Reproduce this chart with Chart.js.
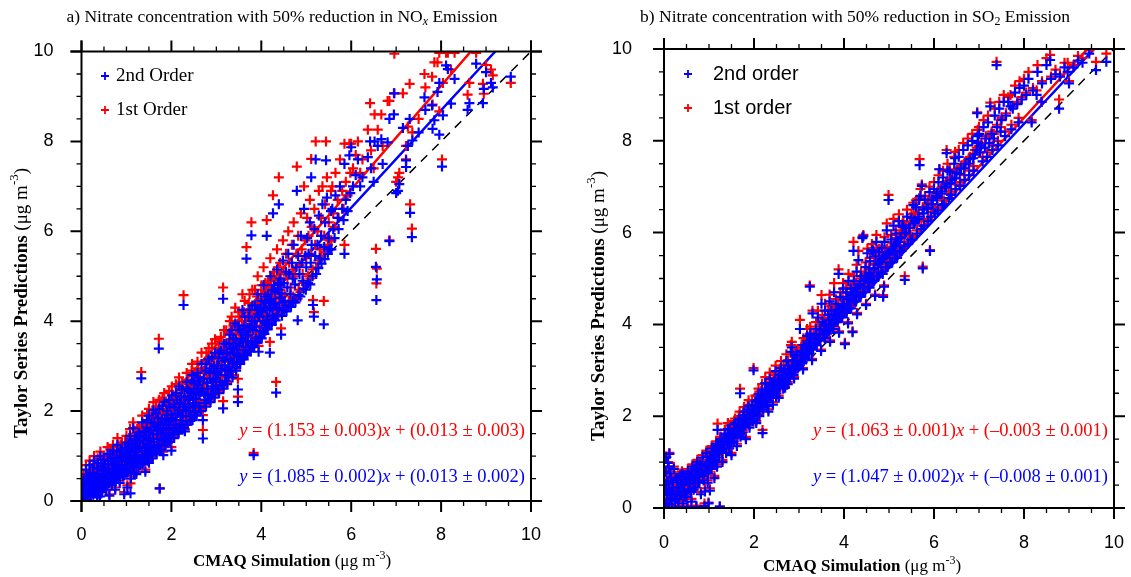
<!DOCTYPE html>
<html>
<head>
<meta charset="utf-8">
<title>Nitrate concentration - Taylor series vs CMAQ</title>
<script src="https://cdn.jsdelivr.net/npm/chart.js@4.4.1/dist/chart.umd.min.js"></script>
<style>
  body { margin: 0; background: #fff; overflow: hidden; }
  #wrap { position: relative; width: 1131px; height: 577px; }
  canvas { position: absolute; top: 0; }
</style>
</head>
<body>
<div id="wrap">
  <canvas id="chartA" width="565" height="577" style="left:0"></canvas>
  <canvas id="chartB" width="566" height="577" style="left:565px"></canvas>
</div>
<script>
// panel a: 50% NOx reduction -- CMAQ value, 1st order and 2nd order Taylor predictions
const cmaqA = [
  0.02,0.05,0.05,0.08,0.10,0.10,0.12,0.15,0.15,0.18,
  0.20,0.22,0.25,0.25,0.28,0.30,0.30,0.32,0.35,0.35,
  0.38,0.40,0.40,0.42,0.45,0.41,0.48,0.50,0.50,0.52,
  0.55,0.55,0.58,0.60,0.60,0.62,0.65,0.65,0.68,0.70,
  0.70,0.72,0.75,0.75,0.78,0.80,0.80,0.82,0.85,0.85,
  0.88,0.90,0.90,0.92,0.95,0.95,0.98,1.00,1.00,1.00,
  1.02,1.05,1.05,1.08,1.10,1.10,1.12,1.15,1.15,1.18,
  1.20,1.20,1.22,1.25,1.25,1.28,1.30,1.30,1.33,1.35,
  1.35,1.38,1.40,1.42,1.45,1.45,1.48,1.50,1.50,1.50,
  1.09,1.52,1.55,1.58,1.60,1.60,1.62,1.65,1.68,1.70,
  1.70,1.72,1.74,1.75,1.78,1.80,1.82,1.85,1.88,1.90,
  1.92,1.95,1.95,1.98,2.00,2.00,2.05,2.05,2.10,2.10,
  2.15,2.18,2.20,2.22,2.25,2.27,2.30,2.30,2.35,2.38,
  2.40,2.42,2.45,2.48,2.50,2.52,2.55,2.58,2.60,2.62,
  2.65,2.70,2.70,2.72,2.75,2.78,2.80,2.85,2.88,2.90,
  2.92,2.95,2.98,3.00,3.05,3.08,3.10,3.12,3.15,3.15,
  3.18,3.20,3.22,3.25,3.28,3.30,3.32,3.35,3.38,3.40,
  3.42,3.45,3.48,3.48,3.50,3.52,3.55,3.58,3.60,3.62,
  3.65,3.67,3.70,3.72,3.75,3.78,3.80,3.83,3.85,3.88,
  3.90,3.92,3.94,3.95,3.98,4.00,4.02,4.05,4.08,4.10,
  4.12,4.15,4.18,4.19,4.20,4.22,4.25,4.26,4.28,4.30,
  4.33,4.35,4.38,4.39,4.40,4.42,4.44,4.45,4.48,4.50,
  4.52,4.55,4.58,4.60,4.62,4.65,4.68,4.70,4.72,4.75,
  4.78,4.79,4.81,4.82,4.85,4.88,4.90,4.92,4.95,4.98,
  5.00,5.02,5.05,5.08,5.10,5.11,5.12,5.15,5.17,5.18,
  5.20,5.21,5.25,5.28,5.30,5.33,5.36,5.39,5.40,5.42,
  5.44,5.46,5.50,5.52,5.55,5.58,5.60,5.63,5.65,5.70,
  5.72,5.75,5.80,5.83,5.85,5.85,5.88,5.92,5.96,5.98,
  6.00,6.04,6.10,6.15,6.20,6.25,6.37,6.42,6.44,6.50,
  6.52,6.55,6.57,6.56,6.59,6.67,6.70,6.81,6.85,6.85,
  6.95,6.96,7.00,7.04,7.07,7.15,7.22,7.22,7.26,7.30,
  7.31,7.35,7.36,7.50,7.63,7.65,7.80,7.81,7.85,7.92,
  7.96,7.96,8.02,8.04,8.11,8.15,8.22,8.30,8.59,8.63,
  8.78,8.93,8.95,9.00,9.11,9.15,9.55,
  0.03,0.06,0.09,0.12,0.14,0.17,0.19,0.21,0.24,0.27,
  0.29,0.31,0.34,0.36,0.39,0.43,0.44,0.47,0.49,0.51,
  0.54,0.57,0.59,0.63,0.64,0.67,0.69,0.71,0.74,0.77,
  0.79,0.81,0.84,0.87,0.89,0.93,0.94,0.97,0.99,1.01,
  1.04,1.06,1.09,1.11,1.13,1.16,1.19,1.21,1.24,1.26,
  1.29,1.31,1.34,1.37,1.39,1.41,1.44,1.46,1.49,1.51,
  1.54,1.56,1.59,1.61,1.64,1.66,1.69,1.71,1.73,1.76,
  1.79,1.81,1.84,1.86,1.89,1.91,1.94,1.96,1.99,2.01,
  2.03,2.07,2.09,2.12,2.14,2.17,2.19,2.21,2.24,2.26,
  2.29,2.32,2.34,2.37,2.39,2.41,2.44,2.46,2.49,2.51,
  2.54,2.57,2.59,2.61,2.64,2.67,2.69,2.73,2.76,2.79,
  2.81,2.83,2.86,2.89,2.91,2.94,2.97,2.99,
  3.02,3.04,3.07,3.11,3.14,3.17,3.19,3.23,3.26,3.29,
  3.31,3.34,3.37,3.39,3.43,3.46,3.49,3.51,3.54,3.57,
  3.59,3.63,3.66,3.69,3.71,3.74,3.77,3.79,3.82,3.86,
  3.89,3.93,3.96,3.99,4.03,4.06,4.09,4.13,4.16,4.21,
  4.24,4.27,4.31,4.34,4.37,4.41,4.43,4.47,
  0.22,0.26,0.33,0.37,0.44,0.46,0.53,0.56,0.61,0.66,
  0.73,0.76,0.83,0.86,0.91,0.96,1.03,1.07,1.14,1.17,
  1.23,1.27,1.32,1.36,1.43,1.47,1.53,1.57,1.63,1.67,
  1.72,1.77,1.83,1.87,1.93,1.97,2.02,2.06,2.11,2.16,
  2.23,2.28,2.33,2.36,2.43,2.47,2.53,2.56,2.63,2.66,
  2.74,2.77,2.84,2.87,2.93,2.96,3.03,3.06,3.13,3.16,
  3.21,3.24,3.27,3.33,3.36,3.41,3.44,3.47,3.53,3.56,
  3.61,3.64,3.68,3.73,3.76,3.81,3.84,3.87,3.91,3.97,
  4.01,4.04,4.07,4.11,4.14,4.17,4.23,4.29,4.32,4.36,
  4.46,4.51,4.56,4.61,4.66,4.71,4.76,4.83,4.87,4.94,
  4.99,5.04,5.09,5.14,5.22,5.27,5.34,5.41,5.48,5.56
];
const firstOrderA = [
  0.10,0.35,0.60,0.20,0.45,0.80,0.05,0.30,0.60,0.90,
  0.15,0.45,0.30,0.70,1.00,0.20,0.50,0.35,0.80,0.10,
  0.55,0.30,0.65,1.10,0.45,0.20,0.75,0.55,0.35,0.90,
  0.65,0.30,1.20,0.50,0.80,0.15,1.00,0.60,0.40,0.75,
  1.25,0.55,0.90,0.30,1.05,0.65,1.40,0.85,0.45,1.10,
  0.75,0.95,1.30,0.60,1.15,0.20,0.85,1.05,1.45,0.70,
  0.35,1.20,0.90,1.60,0.55,1.05,1.35,0.80,1.75,1.20,
  0.95,1.50,0.65,1.30,1.10,1.65,0.85,1.40,2.87,1.20,
  1.90,1.00,1.55,0.70,1.35,1.75,1.10,1.50,2.05,0.90,
  0.39,1.25,1.70,1.00,1.40,2.20,1.85,1.15,1.60,2.00,
  1.30,3.61,0.28,1.80,1.45,2.30,1.10,1.95,1.60,2.15,
  1.35,1.80,2.45,1.50,2.05,1.20,2.30,1.70,1.90,2.60,
  1.70,2.15,1.80,2.50,2.00,4.58,2.30,1.60,2.70,2.10,
  2.45,1.85,2.90,2.25,2.60,2.00,2.40,3.10,2.75,2.20,
  2.55,1.91,1.58,2.90,2.35,3.30,2.65,3.05,2.45,3.50,
  2.80,3.20,2.60,3.00,3.40,2.75,3.65,3.10,2.22,4.75,
  3.30,2.90,3.80,3.50,3.10,4.00,3.60,3.25,3.90,3.45,
  4.30,3.70,2.72,2.32,3.35,4.10,3.80,4.60,3.50,4.20,
  3.90,5.65,3.70,4.40,4.05,6.20,4.70,1.07,4.20,3.75,
  4.55,5.00,3.45,4.30,3.90,4.80,4.40,5.20,4.10,4.65,
  6.25,4.90,4.45,3.54,5.40,4.75,4.30,6.80,5.10,4.60,
  2.65,5.60,4.95,7.20,4.50,5.30,3.84,4.85,5.80,5.10,
  4.60,5.50,4.95,6.00,5.30,4.75,5.70,5.15,6.20,5.00,
  5.50,7.44,4.50,5.90,5.25,6.40,5.60,5.05,7.00,5.80,
  5.40,6.30,5.90,6.70,5.50,7.61,6.10,4.47,4.20,6.50,
  5.70,8.00,6.00,6.90,5.60,6.30,7.00,4.45,5.90,6.60,
  8.00,7.20,6.20,5.80,6.90,7.00,6.40,6.10,7.30,6.70,
  6.30,7.60,6.90,6.50,5.70,7.95,7.10,6.80,7.95,7.30,
  7.95,7.40,7.70,8.00,7.30,7.60,8.26,8.85,7.80,7.40,
  8.60,5.61,5.17,4.84,8.26,8.60,7.90,8.90,8.90,5.80,
  9.07,9.95,7.10,7.20,7.30,9.07,7.90,7.60,8.33,9.28,
  6.60,6.06,8.20,8.50,9.50,9.20,9.44,8.82,9.76,9.76,
  8.67,9.97,7.60,9.30,9.97,9.97,9.60,9.97,9.04,9.30,
  9.97,9.28,9.06,9.70,9.60,9.47,9.30,
  0.25,0.45,0.30,0.55,0.15,0.40,0.65,0.28,0.55,0.82,
  0.38,0.62,0.45,0.95,0.42,0.55,0.85,0.62,1.00,0.45,
  0.72,0.55,0.95,0.70,1.15,0.58,0.88,1.05,0.68,0.80,
  1.20,0.95,0.70,1.25,0.85,1.05,0.75,1.30,0.95,1.15,
  1.00,1.40,1.15,0.90,1.30,1.05,1.45,1.20,1.60,0.95,
  1.25,1.55,1.05,1.45,1.70,1.25,1.55,1.95,1.30,1.65,
  1.40,1.90,1.55,1.25,1.75,2.10,1.45,1.70,2.25,1.55,
  1.95,1.70,2.40,1.40,1.85,2.05,1.65,2.25,1.90,2.55,
  1.95,2.20,1.75,2.40,2.05,2.75,2.30,1.95,2.65,2.20,
  2.45,2.10,2.85,2.35,2.60,2.15,2.55,3.05,2.40,2.80,
  2.25,2.65,2.95,2.45,2.85,3.30,2.60,2.50,3.10,2.75,
  2.45,3.40,2.85,3.15,2.65,3.00,3.60,2.80,
  3.20,2.90,3.55,3.00,3.35,3.80,3.15,3.45,3.00,3.75,
  3.30,4.10,3.55,3.20,3.85,3.40,4.20,3.60,3.30,4.00,
  3.70,4.45,3.55,4.10,3.85,4.60,3.65,4.25,3.95,4.70,
  4.05,4.40,3.75,4.60,4.15,4.50,4.85,4.25,4.70,4.45,
  5.00,4.55,4.90,4.40,5.20,4.70,5.05,4.55,
  0.22,0.18,0.28,0.22,0.32,0.25,0.40,0.42,0.45,0.48,
  0.50,0.55,0.60,0.58,0.70,0.62,0.72,0.78,0.85,0.68,
  0.92,0.80,0.98,0.88,1.05,0.95,1.15,1.08,1.22,1.10,
  1.30,1.20,1.42,1.28,1.50,1.38,1.55,1.45,1.65,1.58,
  1.75,1.68,1.85,1.75,1.95,1.88,2.05,1.95,2.15,2.05,
  2.25,2.15,2.35,2.25,2.45,2.35,2.55,2.45,2.65,2.55,
  2.75,2.65,2.85,2.95,2.80,3.05,2.95,3.15,3.10,3.25,
  3.20,3.35,3.30,3.45,3.40,3.55,3.50,3.65,3.60,3.75,
  3.70,3.85,3.80,3.95,3.90,4.05,4.00,4.15,4.10,4.25,
  4.20,4.35,4.30,4.45,4.40,4.55,4.50,4.70,4.65,4.85,
  4.80,5.00,4.95,5.15,5.20,5.35,5.45,5.55,5.70,5.80
];
const secondOrderA = [
  0.05,0.25,0.50,0.15,0.40,0.70,0.02,0.25,0.55,0.80,
  0.12,0.40,0.28,0.62,0.90,0.18,0.45,0.30,0.72,0.08,
  0.50,0.25,0.60,1.00,0.40,0.10,0.68,0.50,0.30,0.82,
  0.60,0.25,1.05,0.45,0.72,0.12,0.90,0.55,0.35,0.70,
  1.12,0.50,0.82,0.25,0.95,0.60,1.25,0.78,0.40,1.00,
  0.70,0.88,1.15,0.55,1.05,0.15,0.80,0.97,1.30,0.65,
  0.30,1.10,0.85,1.45,0.50,0.98,1.25,0.75,1.62,1.12,
  0.90,1.38,0.60,1.20,1.02,1.52,0.80,1.30,2.73,1.12,
  1.75,0.95,1.45,0.65,1.25,1.62,1.05,1.40,1.90,0.85,
  0.17,1.18,1.58,0.95,1.32,2.02,1.72,1.10,1.50,1.85,
  1.25,3.39,0.28,1.68,1.38,2.12,1.02,1.82,1.52,2.00,
  1.30,1.70,2.25,1.42,1.92,1.12,2.15,1.62,1.80,2.40,
  1.54,2.02,1.72,2.32,1.90,4.36,2.15,1.55,2.50,2.00,
  2.30,1.78,2.68,2.12,2.45,1.92,2.28,2.85,2.58,2.10,
  2.42,1.80,1.39,2.72,2.25,3.05,2.50,2.85,2.35,3.20,
  2.65,3.00,2.50,2.85,3.18,2.65,3.35,2.95,2.06,4.50,
  3.12,2.80,3.50,3.30,2.98,3.70,3.40,3.10,3.62,3.30,
  3.95,3.50,2.48,2.20,3.20,3.80,3.60,4.25,3.35,3.90,
  3.70,5.39,3.55,4.10,3.85,5.91,4.35,1.02,4.00,3.62,
  4.25,4.60,3.32,4.10,3.78,4.45,4.20,4.80,3.95,4.40,
  5.90,4.60,4.25,3.30,5.00,4.50,4.12,6.40,4.80,4.40,
  2.41,5.15,4.70,6.60,4.30,4.95,3.70,4.62,5.35,4.85,
  4.45,5.10,4.75,5.50,5.05,4.60,5.30,4.95,5.70,4.82,
  5.20,6.90,4.02,5.45,5.05,5.90,5.30,4.90,6.50,5.45,
  5.20,5.85,5.50,6.20,5.30,7.20,5.70,4.36,4.10,6.05,
  5.45,7.60,5.70,6.35,5.40,5.90,6.60,3.93,5.65,6.20,
  7.58,6.75,5.85,5.60,6.45,6.50,6.05,5.85,6.80,6.30,
  6.05,7.00,6.50,6.25,5.50,7.50,6.70,6.45,7.69,6.85,
  7.87,7.00,7.25,7.60,7.00,7.20,7.65,8.00,7.40,7.10,
  8.00,5.21,4.93,4.47,7.90,8.05,7.50,7.98,8.50,5.78,
  8.60,9.07,6.85,6.90,7.05,8.30,7.58,7.43,7.90,8.50,
  6.41,5.87,8.02,8.20,8.98,8.70,8.80,8.28,8.47,9.10,
  8.15,9.30,7.44,8.58,9.69,9.61,8.84,9.39,8.70,8.85,
  9.73,8.85,9.17,9.54,9.30,9.20,9.44,
  0.20,0.35,0.25,0.48,0.10,0.35,0.58,0.22,0.50,0.75,
  0.33,0.55,0.40,0.85,0.38,0.50,0.78,0.55,0.92,0.40,
  0.66,0.50,0.88,0.64,1.05,0.52,0.80,0.95,0.62,0.74,
  1.10,0.88,0.65,1.12,0.80,0.98,0.70,1.18,0.90,1.08,
  0.95,1.28,1.08,0.85,1.20,1.00,1.35,1.12,1.45,0.90,
  1.18,1.42,1.00,1.35,1.55,1.18,1.45,1.80,1.22,1.55,
  1.32,1.75,1.48,1.20,1.65,1.95,1.38,1.60,2.05,1.48,
  1.82,1.62,2.20,1.35,1.75,1.92,1.58,2.10,1.80,2.35,
  1.85,2.08,1.68,2.25,1.95,2.55,2.18,1.88,2.48,2.10,
  2.32,2.02,2.65,2.25,2.45,2.08,2.40,2.80,2.28,2.62,
  2.18,2.50,2.75,2.35,2.68,3.05,2.48,2.40,2.90,2.62,
  2.38,3.15,2.72,2.95,2.55,2.85,3.30,2.70,
  3.02,2.80,3.30,2.90,3.18,3.50,3.02,3.28,2.92,3.50,
  3.15,3.80,3.38,3.08,3.60,3.25,3.90,3.45,3.20,3.75,
  3.55,4.10,3.42,3.85,3.68,4.25,3.52,4.00,3.80,4.35,
  3.88,4.15,3.65,4.30,4.00,4.30,4.55,4.10,4.45,4.30,
  4.70,4.38,4.65,4.28,4.85,4.52,4.80,4.42,
  0.18,0.14,0.22,0.18,0.28,0.20,0.35,0.38,0.40,0.42,
  0.45,0.50,0.55,0.52,0.62,0.58,0.66,0.72,0.78,0.62,
  0.85,0.75,0.92,0.82,0.98,0.90,1.08,1.02,1.15,1.05,
  1.22,1.15,1.35,1.22,1.42,1.32,1.48,1.40,1.58,1.50,
  1.68,1.62,1.78,1.70,1.88,1.80,1.98,1.90,2.08,2.00,
  2.18,2.10,2.28,2.20,2.38,2.30,2.48,2.40,2.58,2.50,
  2.68,2.60,2.78,2.88,2.75,2.98,2.90,3.05,3.05,3.15,
  3.15,3.25,3.25,3.35,3.32,3.45,3.42,3.55,3.52,3.65,
  3.62,3.75,3.72,3.85,3.82,3.95,3.92,4.05,4.02,4.15,
  4.12,4.25,4.22,4.35,4.32,4.45,4.42,4.58,4.55,4.72,
  4.70,4.85,4.82,5.00,5.05,5.18,5.28,5.38,5.50,5.60
];

// panel b: 50% SO2 reduction
const cmaqB = [
  0.02,0.03,0.04,0.05,0.06,0.08,0.10,0.12,0.12,0.15,
  0.15,0.18,0.20,0.22,0.25,0.28,0.30,0.32,0.35,0.38,
  0.40,0.42,0.45,0.48,0.50,0.52,0.55,0.58,0.60,0.61,
  0.65,0.68,0.70,0.72,0.75,0.78,0.80,0.82,0.85,0.88,
  0.90,0.91,0.93,0.95,0.98,0.99,1.02,1.00,1.05,1.08,
  1.10,1.12,1.15,1.18,1.19,1.20,1.22,1.24,1.25,1.28,
  1.30,1.32,1.35,1.38,1.40,1.42,1.45,1.48,1.50,1.52,
  1.55,1.58,1.60,1.62,1.65,1.68,1.69,1.70,1.72,1.75,
  1.78,1.80,1.82,1.85,1.88,1.90,1.92,1.95,1.98,1.99,
  2.00,2.03,2.05,2.08,2.10,2.12,2.15,2.18,2.19,2.20,
  2.22,2.25,2.28,2.30,2.32,2.35,2.38,2.40,2.42,2.45,
  2.48,2.50,2.52,2.55,2.58,2.60,2.62,2.65,2.68,2.70,
  2.72,2.75,2.78,2.80,2.82,2.84,2.85,2.88,2.90,2.92,
  2.95,2.98,3.00,3.02,3.05,3.08,3.10,3.12,3.15,3.18,
  3.20,3.22,3.24,3.25,3.28,3.30,3.32,3.35,3.38,3.40,
  3.42,3.45,3.48,3.50,3.52,3.55,3.58,3.60,3.62,3.65,
  3.68,3.70,3.72,3.75,3.78,3.80,3.82,3.85,3.88,3.90,
  3.92,3.95,3.98,4.00,4.02,4.05,4.08,4.10,4.12,4.15,
  4.19,4.20,4.21,4.22,4.25,4.28,4.30,4.32,4.35,4.38,
  4.41,4.43,4.45,4.48,4.50,4.52,4.55,4.58,4.60,4.62,
  4.65,4.68,4.70,4.72,4.75,4.78,4.80,4.84,4.87,4.88,
  4.90,4.92,4.95,4.99,5.00,5.05,5.08,5.10,5.12,5.15,
  5.20,5.22,5.25,5.30,5.32,5.35,5.38,5.40,5.45,5.50,
  5.54,5.55,5.58,5.60,5.65,5.67,5.68,5.70,5.73,5.75,
  5.75,5.80,5.85,5.90,5.91,5.95,6.00,6.05,6.10,6.12,
  6.15,6.20,6.25,6.28,6.28,6.30,6.35,6.40,6.45,6.47,
  6.50,6.55,6.60,6.65,6.70,6.75,6.80,6.85,6.91,6.95,
  6.96,6.97,6.98,7.00,7.05,7.10,7.15,7.20,7.25,7.28,
  7.35,7.39,7.40,7.45,7.50,7.55,7.60,7.65,7.70,7.75,
  7.80,7.85,7.90,7.95,8.00,8.05,8.10,8.17,8.20,8.28,
  8.30,8.39,8.40,8.50,8.58,8.60,8.70,8.78,8.80,8.90,
  8.97,9.00,9.10,9.20,9.30,9.45,9.60,9.83,
  0.05,0.07,0.09,0.11,0.14,0.17,0.19,0.23,0.26,0.29,
  0.33,0.36,0.39,0.43,0.46,0.51,0.54,0.57,0.62,0.66,
  0.69,0.73,0.76,0.81,0.84,0.87,0.92,0.96,0.97,1.01,
  1.04,1.07,1.11,1.14,1.17,1.21,1.23,1.27,1.31,1.34,
  1.37,1.41,1.44,1.47,1.51,1.54,1.57,1.61,1.64,1.67,
  1.71,1.74,1.77,1.81,1.84,1.87,1.91,1.94,1.97,2.02,
  2.06,2.09,2.13,2.17,2.21,2.24,2.27,2.31,2.34,2.37,
  2.41,2.44,2.47,2.51,2.54,2.57,2.61,2.64,2.67,2.71,
  2.74,2.77,2.81,2.87,2.91,2.94,2.97,
  3.03,3.07,3.11,3.14,3.19,3.23,3.27,3.31,3.36,3.39,
  3.44,3.47,3.53,3.57,3.61,3.66,3.71,3.76,3.81,3.86,
  3.91,3.96,4.01,4.06,4.11,4.16,4.23,4.27,4.33,4.37,
  4.42,4.47,4.53,4.57,4.63,4.67,4.73,4.77,4.83,4.86,
  4.93,4.97,5.03,5.07,5.13,5.18,5.24,5.28,5.34,5.42,
  5.48,5.52,5.62,5.72,5.78,5.87,5.93,6.02,6.08,6.18,
  6.22,6.33,6.38,6.48,6.58,6.68,6.78,6.88,7.08,7.18,
  7.30,7.42,7.58,7.72,7.88,
  0.45,0.53,0.63,0.74,0.86,0.94,1.06,1.16,1.26,1.36,
  1.46,1.56,1.66,1.76,1.86,1.96,2.07,2.16,2.26,2.36,
  2.46,2.56,2.66,2.76,2.86,2.96,3.06,3.16,3.26,3.37,
  3.46,3.56,3.67,3.77,3.87,3.97,4.07,4.17,4.27,4.36,
  4.46,4.56,4.66,4.76,4.85,4.96,5.06,5.16,5.26,5.36,
  5.46,5.57,5.66,5.77,5.86,5.97,6.07,6.17,6.27,6.37,
  6.46,6.57,6.67,6.77,6.87,7.02,7.13,7.23,7.33,7.48,
  1.09,1.29,1.49,1.69,1.89,2.08,2.29,2.49,2.69,2.89,
  3.09,3.29,3.49,3.69,3.89,4.09,4.29,4.49,4.69,4.89
];
const firstOrderB = [
  0.05,0.40,0.80,1.12,0.20,0.60,0.90,0.10,1.20,0.35,
  0.70,0.02,0.50,0.90,0.20,0.40,0.65,0.05,0.30,0.55,
  0.80,0.15,0.45,0.65,0.30,0.05,0.55,0.75,0.40,0.20,
  0.65,0.90,0.50,0.05,0.75,0.60,1.00,0.35,0.80,0.65,
  0.10,0.43,0.95,1.20,0.80,0.12,0.43,1.05,0.90,1.30,
  1.10,0.70,1.25,0.95,1.84,1.40,1.15,0.03,1.55,1.30,
  1.05,1.45,1.70,1.25,1.50,1.85,1.35,1.60,1.20,1.75,
  1.50,1.95,1.65,1.40,1.80,2.10,2.60,1.60,1.90,1.70,
  2.20,1.85,1.55,2.05,2.35,1.80,2.00,2.20,1.95,3.05,
  2.10,2.45,1.90,2.25,2.60,2.05,2.35,2.70,1.70,2.20,
  2.50,2.85,2.35,2.60,2.15,2.95,2.50,2.75,2.30,2.65,
  3.10,2.55,2.85,2.45,2.75,3.20,2.90,2.65,3.00,2.80,
  3.35,2.75,3.05,2.90,3.55,3.62,3.15,2.95,3.30,3.05,
  3.45,3.15,3.20,4.10,3.50,3.25,3.70,3.35,3.60,3.90,
  3.40,3.65,4.85,3.95,3.55,4.30,3.80,3.60,4.05,3.75,
  4.30,3.70,3.95,4.64,4.20,3.85,4.45,4.05,3.85,4.30,
  4.65,4.05,4.40,4.15,4.90,4.20,4.55,4.30,5.20,4.35,
  4.70,4.40,4.90,4.45,3.60,4.80,4.50,5.10,4.60,4.85,
  3.85,4.70,5.80,5.05,4.75,5.30,4.85,5.60,4.90,5.15,
  5.91,5.95,5.00,5.35,5.05,5.65,5.20,5.45,5.10,5.75,
  5.66,5.30,5.55,5.95,5.35,5.65,5.40,5.70,4.64,5.50,
  5.90,5.55,6.20,6.82,5.60,5.95,5.65,6.30,5.75,6.05,
  5.85,6.40,5.95,6.20,6.25,5.05,6.05,6.50,6.15,6.40,
  6.65,6.42,6.30,6.70,6.40,6.75,7.60,6.95,7.05,5.26,
  6.55,6.80,6.60,7.00,5.62,6.75,7.10,6.85,7.25,7.38,
  6.95,7.35,7.05,7.80,7.11,7.50,7.38,7.20,7.65,7.76,
  7.35,7.80,7.45,7.95,7.55,8.05,7.65,8.15,7.80,7.85,
  8.62,8.24,7.98,8.30,7.95,8.45,8.10,8.55,8.83,8.20,
  8.70,9.72,8.35,8.85,8.50,9.00,8.60,8.95,9.00,8.75,
  9.20,8.85,9.30,8.95,9.35,9.05,9.50,8.45,9.15,9.10,
  9.65,8.85,9.30,9.80,9.87,9.40,9.55,8.90,9.45,9.70,
  9.70,9.30,9.65,9.85,9.80,9.97,9.72,9.90,
  0.55,0.30,1.00,0.45,0.80,0.25,0.60,0.35,0.70,0.25,
  0.50,0.75,0.40,0.60,0.30,0.70,0.45,0.60,0.75,0.45,
  0.70,0.85,0.60,0.80,0.95,0.75,0.85,1.00,0.60,0.90,
  1.15,1.00,1.20,1.05,1.30,1.25,1.40,1.35,1.50,1.35,
  1.55,1.45,1.60,1.50,1.65,1.60,1.75,1.70,1.65,1.85,
  1.80,1.95,1.85,2.00,1.90,2.05,2.10,2.00,2.15,2.15,
  2.30,2.15,2.40,2.25,2.35,2.50,2.40,2.45,2.60,2.45,
  2.60,2.75,2.60,2.70,2.85,2.70,2.80,2.95,2.80,2.95,
  3.05,2.90,3.05,3.10,3.15,3.25,3.10,
  3.30,3.20,3.40,3.30,3.50,3.45,3.60,3.50,3.70,3.60,
  3.80,3.70,3.90,3.75,3.95,3.90,4.10,3.95,4.15,4.10,
  4.25,4.20,4.35,4.30,4.45,4.40,4.60,4.55,4.70,4.65,
  4.80,4.75,4.90,4.85,5.00,5.00,5.15,5.10,5.25,5.15,
  5.35,5.30,5.45,5.40,5.55,5.50,5.70,5.65,5.80,5.80,
  5.95,5.90,6.05,6.15,6.25,6.30,6.45,6.50,6.55,6.70,
  6.70,6.85,6.90,7.05,7.10,7.25,7.35,7.45,7.65,7.75,
  7.90,8.00,8.20,8.35,8.50,
  0.75,0.85,0.95,1.05,1.15,1.25,1.35,1.45,1.55,1.70,
  1.80,1.90,2.00,2.10,2.25,2.35,2.45,2.55,2.70,2.80,
  2.90,3.00,3.12,3.22,3.35,3.45,3.55,3.68,3.78,3.90,
  4.00,4.12,4.22,4.35,4.45,4.55,4.68,4.78,4.90,5.00,
  5.10,5.22,5.32,5.45,5.55,5.65,5.78,5.88,6.00,6.10,
  6.22,6.32,6.42,6.55,6.65,6.75,6.88,6.98,7.10,7.20,
  7.30,7.40,7.50,7.62,7.72,7.85,7.95,8.05,8.15,8.30,
  1.05,1.25,1.45,1.65,1.85,2.05,2.25,2.45,2.65,2.85,
  3.05,3.25,3.45,3.65,3.85,4.05,4.25,4.45,4.65,4.85
];
const secondOrderB = [
  0.03,0.38,0.78,1.10,0.18,0.58,0.90,0.08,1.18,0.30,
  0.66,0.00,0.45,0.85,0.15,0.35,0.60,0.02,0.28,0.50,
  0.75,0.10,0.40,0.60,0.25,0.02,0.52,0.70,0.35,0.14,
  0.62,0.85,0.45,0.02,0.72,0.55,0.95,0.30,0.78,0.60,
  0.04,0.36,0.92,1.12,0.75,0.10,0.38,1.00,0.85,1.22,
  1.05,0.65,1.20,0.90,1.70,1.35,1.10,0.03,1.45,1.25,
  1.00,1.38,1.60,1.20,1.45,1.72,1.30,1.55,1.15,1.65,
  1.45,1.85,1.60,1.35,1.72,1.95,2.50,1.55,1.82,1.65,
  2.10,1.80,1.50,1.98,2.22,1.75,1.95,2.12,1.90,3.00,
  2.05,2.32,1.85,2.18,2.48,2.00,2.28,2.58,1.63,2.15,
  2.42,2.72,2.30,2.52,2.10,2.82,2.45,2.65,2.25,2.58,
  2.98,2.50,2.75,2.40,2.68,3.05,2.80,2.60,2.90,2.75,
  3.20,2.70,2.95,2.85,3.40,3.50,3.05,2.90,3.20,3.00,
  3.35,3.08,3.12,3.90,3.40,3.18,3.55,3.28,3.50,3.75,
  3.35,3.58,4.82,3.80,3.50,4.24,3.70,3.55,3.90,3.68,
  4.15,3.65,3.88,4.45,4.05,3.78,4.30,3.98,3.80,4.20,
  4.50,3.98,4.30,4.10,4.70,4.15,4.45,4.22,5.10,4.28,
  4.60,4.35,4.78,4.40,3.57,4.70,4.45,4.95,4.55,4.78,
  3.83,4.65,5.60,4.95,4.70,5.15,4.80,5.40,4.85,5.05,
  5.88,5.92,4.95,5.25,5.00,5.55,5.12,5.38,5.05,5.62,
  5.60,5.22,5.48,5.80,5.30,5.58,5.35,5.66,4.60,5.45,
  5.80,5.50,6.05,6.71,5.55,5.85,5.60,6.15,5.70,5.98,
  5.80,6.25,5.90,6.12,6.16,4.97,6.00,6.35,6.10,6.32,
  6.60,6.20,6.25,6.55,6.35,6.71,7.47,6.80,7.02,5.22,
  6.50,6.72,6.55,6.88,5.60,6.70,6.95,6.80,7.10,7.38,
  6.90,7.20,7.00,7.73,7.05,7.35,7.33,7.15,7.50,7.62,
  7.30,7.65,7.40,7.80,7.50,7.90,7.60,8.00,7.70,7.80,
  8.60,8.10,7.95,8.15,7.90,8.30,8.05,8.40,8.75,8.15,
  8.55,9.65,8.30,8.70,8.45,8.85,8.55,8.85,8.75,8.70,
  9.05,8.80,9.15,8.90,9.20,9.00,9.35,8.40,9.10,9.00,
  9.50,8.85,9.25,9.65,9.76,9.35,9.45,8.70,9.40,9.60,
  9.50,9.25,9.60,9.75,9.70,9.90,9.54,9.72,
  0.52,0.28,0.98,0.42,0.75,0.22,0.55,0.30,0.65,0.20,
  0.45,0.70,0.35,0.55,0.25,0.65,0.40,0.56,0.70,0.40,
  0.66,0.80,0.56,0.76,0.90,0.70,0.82,0.96,0.55,0.86,
  1.10,0.96,1.15,1.00,1.25,1.20,1.35,1.30,1.45,1.30,
  1.50,1.40,1.55,1.45,1.60,1.55,1.68,1.65,1.60,1.78,
  1.75,1.88,1.80,1.92,1.85,2.00,2.02,1.95,2.08,2.10,
  2.22,2.10,2.32,2.20,2.30,2.42,2.35,2.40,2.52,2.40,
  2.55,2.65,2.55,2.65,2.75,2.65,2.75,2.85,2.75,2.88,
  2.95,2.85,3.00,3.02,3.10,3.15,3.05,
  3.22,3.15,3.32,3.25,3.42,3.38,3.50,3.45,3.60,3.55,
  3.70,3.65,3.80,3.70,3.85,3.85,4.00,3.90,4.05,4.05,
  4.15,4.15,4.25,4.25,4.35,4.35,4.50,4.50,4.60,4.60,
  4.70,4.70,4.82,4.80,4.92,4.95,5.05,5.05,5.15,5.10,
  5.25,5.25,5.35,5.35,5.45,5.45,5.58,5.60,5.70,5.75,
  5.85,5.85,5.98,6.08,6.15,6.25,6.35,6.42,6.48,6.60,
  6.62,6.75,6.82,6.95,7.02,7.15,7.25,7.35,7.55,7.65,
  7.80,7.90,8.10,8.25,8.40,
  0.70,0.80,0.90,1.00,1.10,1.20,1.30,1.40,1.50,1.62,
  1.72,1.82,1.92,2.02,2.15,2.25,2.35,2.45,2.58,2.68,
  2.78,2.90,3.00,3.10,3.22,3.32,3.42,3.55,3.65,3.78,
  3.88,4.00,4.10,4.22,4.32,4.42,4.55,4.65,4.78,4.88,
  4.98,5.10,5.20,5.32,5.42,5.52,5.65,5.75,5.88,5.98,
  6.10,6.20,6.30,6.42,6.52,6.62,6.75,6.85,6.98,7.08,
  7.18,7.28,7.40,7.50,7.62,7.75,7.85,7.95,8.05,8.20,
  1.02,1.22,1.42,1.62,1.82,2.02,2.22,2.42,2.62,2.82,
  3.02,3.22,3.42,3.62,3.82,4.02,4.22,4.42,4.62,4.82
];

// least squares fits printed on the panels: [1st order, 2nd order]
const slopeA = [1.153, 1.085], interceptA = [0.013, 0.013];
const slopeB = [1.063, 1.047], interceptB = [-0.003, -0.008];
const eqA = [['(1.153 \u00b1 0.003)', '(0.013 \u00b1 0.003)'], ['(1.085 \u00b1 0.002)', '(0.013 \u00b1 0.002)']];
const eqB = [['(1.063 \u00b1 0.001)', '(\u20130.003 \u00b1 0.001)'], ['(1.047 \u00b1 0.002)', '(\u20130.008 \u00b1 0.001)']];
const axisTicks = [0, 2, 4, 6, 8, 10];

const RED = '#ff0000', BLUE = '#0000ff';
const SERIF = '"Liberation Serif", "Times New Roman", serif';
const SANS = '"Liberation Sans", Arial, sans-serif';

function pairs(xs, ys) { return xs.map((x, i) => ({ x: x, y: ys[i] })); }
function fitLine(m, b) { return [{ x: 0, y: b }, { x: (10 - b) / m, y: 10 }]; }

// draw a row of differently styled text pieces: [text, font, dy]
function drawRuns(ctx, runs, x, y, align) {
  let w = 0;
  runs.forEach(r => { ctx.font = r[1]; w += ctx.measureText(r[0]).width; });
  let cx = align === 'right' ? x - w : (align === 'center' ? x - w / 2 : x);
  ctx.textAlign = 'left';
  ctx.textBaseline = 'middle';
  runs.forEach(r => {
    ctx.font = r[1];
    ctx.fillText(r[0], cx, y + (r[2] || 0));
    cx += ctx.measureText(r[0]).width;
  });
}

function unitRuns(size) {
  return [
    ['(\u03bcg m', size + 'px ' + SERIF, 0],
    ['-3', Math.round(size * 0.68) + 'px ' + SERIF, -size * 0.38],
    [')', size + 'px ' + SERIF, 0]
  ];
}

const decor = {
  id: 'decor',
  afterDraw(chart, args, o) {
    const ctx = chart.ctx, a = chart.chartArea;
    const xs = chart.scales.x, ys = chart.scales.y;
    ctx.save();
    ctx.strokeStyle = '#000';
    // frame with small overshoot like the original axes
    ctx.lineWidth = 2;
    ctx.beginPath();
    ctx.moveTo(a.left - 11, a.bottom); ctx.lineTo(a.right + 11, a.bottom);
    ctx.moveTo(a.left - 11, a.top); ctx.lineTo(a.right + 11, a.top);
    ctx.moveTo(a.left, a.top - 11); ctx.lineTo(a.left, a.bottom + 11);
    ctx.moveTo(a.right, a.top - 11); ctx.lineTo(a.right, a.bottom + 11);
    ctx.stroke();
    // outward ticks on all four sides, major every 2, minor every 0.5
    for (let v = 0; v <= 10; v += 0.5) {
      const major = v % 2 === 0;
      const len = major ? 11 : 5;
      ctx.lineWidth = major ? 2 : 1.3;
      const px = xs.getPixelForValue(v), py = ys.getPixelForValue(v);
      ctx.beginPath();
      ctx.moveTo(px, a.bottom); ctx.lineTo(px, a.bottom + len);
      ctx.moveTo(px, a.top); ctx.lineTo(px, a.top - len);
      ctx.moveTo(a.left, py); ctx.lineTo(a.left - len, py);
      ctx.moveTo(a.right, py); ctx.lineTo(a.right + len, py);
      ctx.stroke();
    }
    ctx.fillStyle = '#000';
    // panel title
    drawRuns(ctx, o.title, o.titleX, o.titleY, 'center');
    // axis titles
    drawRuns(ctx, [['CMAQ Simulation ', 'bold 17px ' + SERIF, 0]].concat(unitRuns(17)), o.xTitleX, o.xTitleY, 'center');
    ctx.save();
    ctx.translate(o.yTitleX, o.yTitleY);
    ctx.rotate(-Math.PI / 2);
    drawRuns(ctx, [['Taylor Series Predictions ', 'bold 19px ' + SERIF, 0]].concat(unitRuns(19)), 0, 0, 'center');
    ctx.restore();
    // legend
    o.legend.forEach(item => {
      ctx.strokeStyle = item.color;
      ctx.lineWidth = 1.8;
      ctx.beginPath();
      ctx.moveTo(o.markX - 4, item.y); ctx.lineTo(o.markX + 4, item.y);
      ctx.moveTo(o.markX, item.y - 4); ctx.lineTo(o.markX, item.y + 4);
      ctx.stroke();
      ctx.fillStyle = '#000';
      ctx.font = o.legendFont;
      ctx.textAlign = 'left';
      ctx.textBaseline = 'middle';
      ctx.fillText(item.label, o.textX, item.y);
    });
    // fit equations
    const f = o.eqSize + 'px ' + SERIF, fi = 'italic ' + o.eqSize + 'px ' + SERIF;
    o.eq.forEach((e, i) => {
      ctx.fillStyle = i === 0 ? RED : BLUE;
      drawRuns(ctx, [['y', fi], [' = ' + e[0], f], ['x', fi], [' + ' + e[1], f]], o.eqX, o.eqY[i], 'right');
    });
    ctx.restore();
  }
};

function makeChart(id, cmaq, first, second, slope, icpt, pad, yWidth, xHeight, labelPad, deco) {
  const tickFont = { family: SANS, size: 18 };
  const cross = { pointStyle: 'cross', pointRadius: 5, pointBorderWidth: 2.2 };
  return new Chart(document.getElementById(id), {
    type: 'scatter',
    data: {
      // points are drawn over the fit lines, blue over red
      datasets: [
        Object.assign({ label: '2nd order', data: pairs(cmaq, second), pointBorderColor: BLUE, pointBackgroundColor: BLUE, order: 0 }, cross),
        Object.assign({ label: '1st order', data: pairs(cmaq, first), pointBorderColor: RED, pointBackgroundColor: RED, order: 1 }, cross),
        { data: fitLine(slope[1], icpt[1]), showLine: true, pointRadius: 0, borderColor: BLUE, borderWidth: 2.5, order: 2 },
        { data: fitLine(slope[0], icpt[0]), showLine: true, pointRadius: 0, borderColor: RED, borderWidth: 2.5, order: 3 },
        { data: [{ x: 0, y: 0 }, { x: 10, y: 10 }], showLine: true, pointRadius: 0, borderColor: '#000', borderWidth: 1.5, borderDash: [9, 7], order: 4 }
      ]
    },
    options: {
      responsive: false,
      animation: false,
      events: [],
      layout: { padding: pad },
      plugins: { legend: { display: false }, tooltip: { enabled: false }, decor: deco },
      scales: {
        x: {
          type: 'linear', min: 0, max: 10,
          afterBuildTicks: s => { s.ticks = axisTicks.map(v => ({ value: v })); },
          ticks: { font: tickFont, color: '#000', padding: labelPad[0], maxRotation: 0 },
          grid: { display: false, drawTicks: false },
          border: { display: false },
          afterFit: s => { s.height = xHeight; s.paddingLeft = 0; s.paddingRight = 0; }
        },
        y: {
          type: 'linear', min: 0, max: 10,
          afterBuildTicks: s => { s.ticks = axisTicks.map(v => ({ value: v })); },
          ticks: { font: tickFont, color: '#000', padding: labelPad[1] },
          grid: { display: false, drawTicks: false },
          border: { display: false },
          afterFit: s => { s.width = yWidth; s.paddingTop = 0; s.paddingBottom = 0; }
        }
      }
    },
    plugins: [decor]
  });
}

const sub = (t, f) => [t, f, 5];

makeChart('chartA', cmaqA, firstOrderA, secondOrderA, slopeA, interceptA,
  { top: 51.5, right: 34, left: 0, bottom: 0 }, 81.5, 76, [23, 28], {
    title: [['a) Nitrate concentration with 50% reduction in NO', '17.5px ' + SERIF, 0], sub('x', 'italic 12px ' + SERIF), [' Emission', '17.5px ' + SERIF, 0]],
    titleX: 282, titleY: 17,
    xTitleX: 292, xTitleY: 562,
    yTitleX: 22, yTitleY: 303,
    legend: [{ label: '2nd Order', color: BLUE, y: 76 }, { label: '1st Order', color: RED, y: 110 }],
    markX: 105, textX: 116, legendFont: '19px ' + SERIF,
    eq: eqA, eqX: 525, eqY: [431, 477], eqSize: 18.5
  });

makeChart('chartB', cmaqB, firstOrderB, secondOrderB, slopeB, interceptB,
  { top: 49, right: 17, left: 0, bottom: 0 }, 99, 69, [24, 32], {
    title: [['b) Nitrate concentration with 50% reduction in SO', '17.5px ' + SERIF, 0], sub('2', '12px ' + SERIF), [' Emission', '17.5px ' + SERIF, 0]],
    titleX: 290, titleY: 17,
    xTitleX: 297, xTitleY: 567,
    yTitleX: 34, yTitleY: 306,
    legend: [{ label: '2nd order', color: BLUE, y: 74 }, { label: '1st order', color: RED, y: 108 }],
    markX: 123, textX: 148, legendFont: '20px ' + SANS,
    eq: eqB, eqX: 543, eqY: [431, 477], eqSize: 18.5
  });
</script>
</body>
</html>
